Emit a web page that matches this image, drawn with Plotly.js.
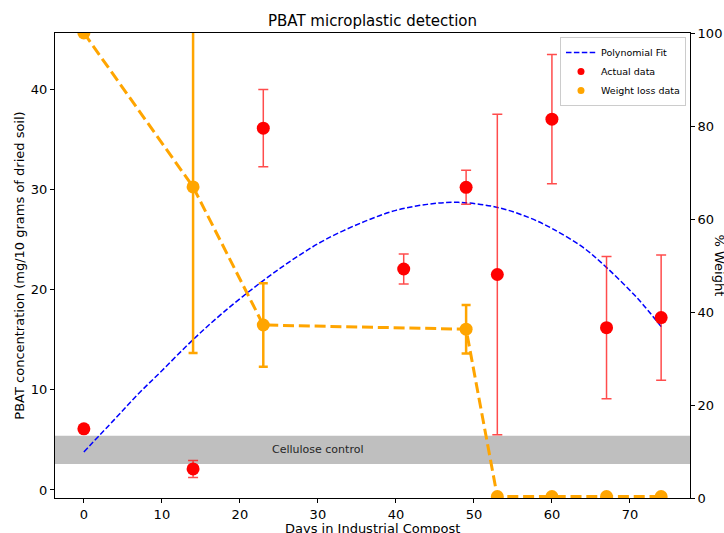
<!DOCTYPE html>
<html>
<head>
<meta charset="utf-8">
<script src="https://cdn.plot.ly/plotly-3.0.1.min.js"></script>
<style>html,body{margin:0;padding:0;background:#fff;}#chart{width:724px;height:533px;}</style>
</head>
<body>
<div id="chart"></div>
<script>
// Actual PBAT concentration data (left axis)
const daysActual = [0, 14, 23, 41, 49, 53, 60, 67, 74];
const pbatActual = [6.1, 2.1, 36.1, 22.05, 30.2, 21.5, 37.0, 16.2, 17.2];
const pbatErr = [0, 0.85, 3.85, 1.5, 1.7, 16.0, 6.45, 7.1, 6.25];

// Weight loss data (right axis, %)
const daysWeight = [0, 14, 23, 49, 53, 60, 67, 74];
const weightPct = [100, 66.9, 37.2, 36.3, 0.3, 0.3, 0.3, 0.3];
const weightErr = [0, 35.7, 9.0, 5.2, 0, 0, 0, 0];

// Polynomial fit curve
const fitDays = [0, 4, 7, 10, 14, 18, 23, 27, 31, 36, 40, 44, 48, 53, 57, 60, 64, 67, 71, 74];
const fitPbat = [3.8, 7.1, 9.6, 11.9, 15.0, 17.8, 20.9, 23.1, 25.0, 26.8, 27.9, 28.5, 28.7, 28.2, 27.2, 26.1, 24.2, 22.2, 19.1, 16.3];

// Cellulose control band
const celluloseLow = 2.6;
const celluloseHigh = 5.4;

const xTicks = [0, 10, 20, 30, 40, 50, 60, 70];
const yTicks = [0, 10, 20, 30, 40];
const y2Ticks = [0, 20, 40, 60, 80, 100];

const traces = [
  {
    x: fitDays, y: fitPbat, type: 'scatter', mode: 'lines', name: 'Polynomial Fit',
    line: {color: '#0000ff', width: 1.5, dash: '5.5px,2.4px', shape: 'spline', smoothing: 1},
    xaxis: 'x', yaxis: 'y', legendrank: 1
  },
  {
    x: daysActual, y: pbatActual, type: 'scatter', mode: 'markers', name: 'Actual data',
    marker: {color: '#ff0000', size: 13},
    error_y: {type: 'data', array: pbatErr, visible: true, color: 'rgba(255,0,0,0.7)', thickness: 1.5, width: 5},
    xaxis: 'x', yaxis: 'y', showlegend: false
  },
  {
    x: daysWeight, y: weightPct, type: 'scatter', mode: 'lines', name: 'Weight loss line',
    line: {color: '#ffa500', width: 3, dash: '11px,4.8px'},
    showlegend: false, hoverinfo: 'skip',
    xaxis: 'x', yaxis: 'y2'
  },
  {
    x: daysWeight, y: weightPct, type: 'scatter', mode: 'markers', name: 'Weight loss data',
    marker: {color: '#ffa500', size: 13},
    error_y: {type: 'data', array: weightErr, visible: true, color: '#ffa500', thickness: 2.5, width: 4.5},
    xaxis: 'x', yaxis: 'y2', showlegend: false
  },
  // legend-only entries with small markers (no data drawn)
  {
    x: [null], y: [null], type: 'scatter', mode: 'markers', name: 'Actual data',
    marker: {color: '#ff0000', size: 7}, xaxis: 'x', yaxis: 'y', legendrank: 2
  },
  {
    x: [null], y: [null], type: 'scatter', mode: 'markers', name: 'Weight loss data',
    marker: {color: '#ffa500', size: 7}, xaxis: 'x', yaxis: 'y', legendrank: 3
  }
];

const axisCommon = {
  ticks: 'outside', ticklen: 4, tickwidth: 1, tickcolor: '#000',
  showline: true, linecolor: '#000', linewidth: 1,
  showgrid: false, zeroline: false,
  tickfont: {size: 13, color: '#000'}
};

const layout = {
  width: 724, height: 533,
  margin: {l: 55, r: 34, t: 33, b: 35, pad: 0},
  paper_bgcolor: '#fff', plot_bgcolor: '#fff',
  font: {family: 'DejaVu Sans', size: 13, color: '#000'},
  title: {
    text: 'PBAT microplastic detection', font: {size: 15, color: '#000'},
    x: 0.5, xref: 'paper', xanchor: 'center',
    y: 1 - 21 / 533, yref: 'container', yanchor: 'middle'
  },
  showlegend: true,
  legend: {
    x: 0.9937, y: 0.9914, xanchor: 'right', yanchor: 'top',
    bgcolor: 'rgba(255,255,255,0.8)', bordercolor: '#cccccc', borderwidth: 1,
    font: {size: 9.5, color: '#000'}, itemwidth: 30, tracegroupgap: 0
  },
  xaxis: Object.assign({}, axisCommon, {
    range: [-3.7, 77.7], tickvals: xTicks, mirror: true,
    automargin: false
  }),
  yaxis: Object.assign({}, axisCommon, {
    range: [-0.8, 45.6], tickvals: yTicks,
    title: {text: 'PBAT concentration (mg/10 grams of dried soil)', font: {size: 13}, standoff: 3},
    automargin: false
  }),
  yaxis2: Object.assign({}, axisCommon, {
    range: [0, 100], tickvals: y2Ticks, overlaying: 'y', side: 'right',
    automargin: false
  }),
  shapes: [{
    type: 'rect', xref: 'paper', x0: 0, x1: 1, yref: 'y', y0: celluloseLow, y1: celluloseHigh,
    fillcolor: '#bfbfbf', line: {width: 0}, layer: 'below'
  }],
  annotations: [
    {text: 'Cellulose control', x: 30, y: 4, xref: 'x', yref: 'y', showarrow: false,
     font: {size: 11, color: '#262626'}},
    {text: 'Days in Industrial Compost', xref: 'paper', yref: 'paper', x: 0.5, y: 0,
     yshift: -30, xanchor: 'center', yanchor: 'middle', showarrow: false,
     font: {size: 13, color: '#000'}},
    {text: '% Weight', xref: 'paper', yref: 'paper', x: 1, xshift: 29, y: 0.5,
     xanchor: 'center', yanchor: 'middle', textangle: 90, showarrow: false,
     font: {size: 13, color: '#000'}}
  ]
};

Plotly.newPlot('chart', traces, layout, {displayModeBar: false, staticPlot: true});
</script>
</body>
</html>
